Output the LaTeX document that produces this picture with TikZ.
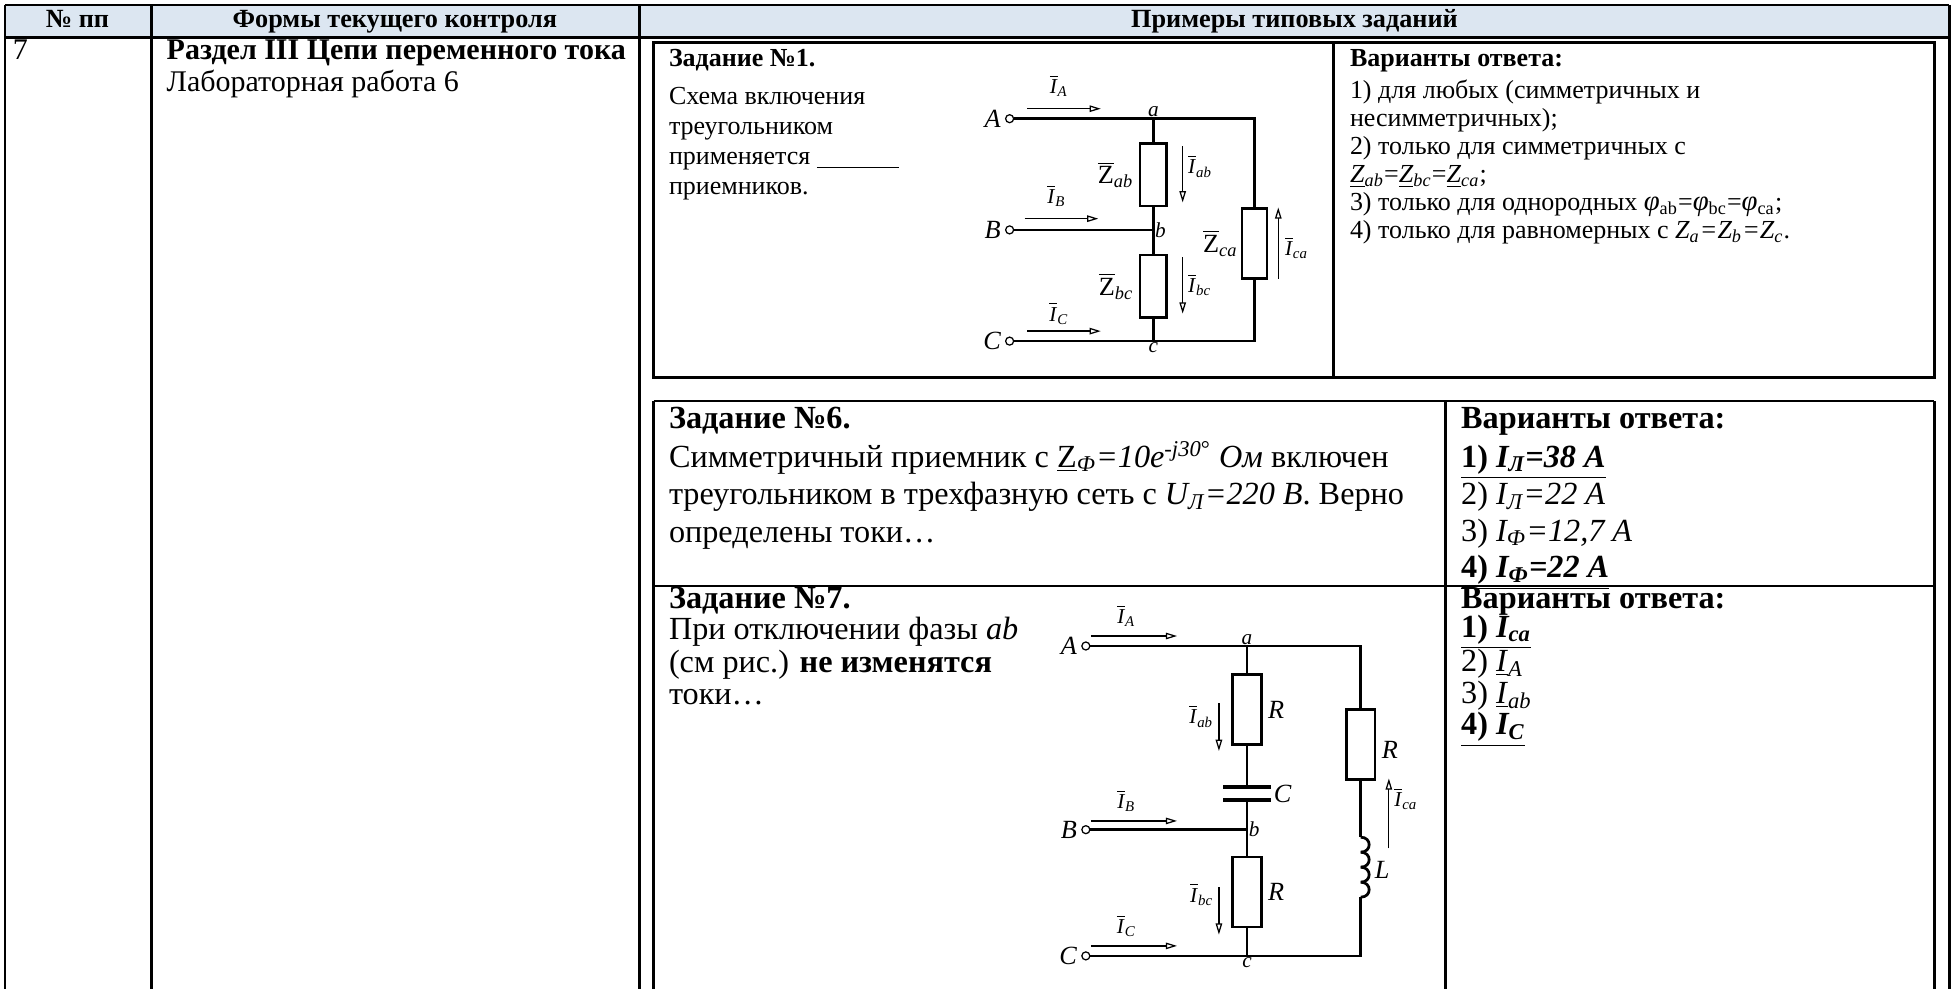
\documentclass[tikz,border=0pt]{standalone}
\usepackage{fontspec}
\setmainfont{Liberation Serif}
\usetikzlibrary{arrows.meta, positioning, calc}

\definecolor{hdrblue}{HTML}{DCE6F1}
\newcommand{\ovl}[1]{$\overline{\mbox{\textit{#1}}}$}
\newcommand{\ovz}{$\overline{\mbox{Z}}$}
\newcommand{\phis}{{\fontsize{11.5}{11.5}\selectfont\textit{φ}}}

\begin{document}
\begin{tikzpicture}[
  x=0.5pt, y=-0.5pt,
  tbl/.style = {line width=1.1pt},
  wire/.style = {line width=1.1pt},
  res/.style = {draw, line width=1pt, minimum width=10.5pt, minimum height=25pt, inner sep=0pt},
  term/.style = {draw, circle, line width=0.5pt, minimum size=3.2pt, inner sep=0pt, fill=white},
  curr/.style = {line width=0.5pt, -{Triangle[open, length=4.5pt, width=2.6pt]}},
  lbl/.style = {font=\fontsize{8.5}{9}\selectfont, inner sep=0.5pt},
  lblZ/.style = {font=\fontsize{10.5}{11}\selectfont, inner sep=0.5pt},
  lblT/.style = {font=\fontsize{10.5}{11}\selectfont\itshape, inner sep=1pt},
  hdr/.style = {font=\fontsize{10.5}{12}\selectfont\bfseries, anchor=base, inner sep=0pt},
  txtS/.style = {font=\fontsize{10.4}{11.9}\selectfont, anchor=base west, inner sep=0pt},
  txtM/.style = {font=\fontsize{12}{12.5}\selectfont, anchor=base west, inner sep=0pt},
  txtL/.style = {font=\fontsize{12.9}{15}\selectfont, anchor=base west, inner sep=0pt}
]
  \useasboundingbox (0,0) rectangle (1563,791.5);

  % Header row
  \fill[hdrblue] (4,4) rectangle (1560,30);
  \node[hdr] (hnum) at (62,22) {№ пп};
  \node[hdr] (hform) at (316,22) {Формы текущего контроля};
  \node[hdr] (hex) at (1036,22) {Примеры типовых заданий};

  % Table lines
  \draw[tbl] (4,4) -- (1560,4);
  \draw[tbl] (4,30) -- (1560,30);
  \draw[tbl] (4,4) -- (4,792);
  \draw[tbl] (121,4) -- (121,792);
  \draw[tbl] (512,4) -- (512,792);
  \draw[tbl] (1560,4) -- (1560,792);

  % Row 7
  \node[txtM] (rnum) at (10,48) {7};
  \node[txtM] (rsec) at (133,48) {\begin{tabular}[t]{@{}l@{}}
      \textbf{Раздел III Цепи переменного тока}\\
      Лабораторная работа 6
    \end{tabular}};

  % Task 1 box
  \draw[tbl] (523,34) rectangle (1548,302);
  \draw[tbl] (1067,34) -- (1067,302);

  \node[txtS] (q1t) at (535,53) {\textbf{Задание №1.}};
  \node[txtS] (q1) at (535,84) {\begin{tabular}[t]{@{}l@{}}
      Схема включения\\
      треугольником\\
      применяется \underline{\hspace{33pt}}\\
      приемников.
    \end{tabular}};

  \node[txtS] (a1t) at (1080,53) {\textbf{Варианты ответа:}};
  \node[txtS, font=\fontsize{10.4}{11.2}\selectfont] (a1) at (1080,79) {\begin{tabular}[t]{@{}l@{}}
      1) для любых (симметричных и\\
      несимметричных);\\
      2) только для симметричных с\\
      \underline{\textit{Z}}\textsubscript{\textit{ab}}=\underline{\textit{Z}}\textsubscript{\textit{bc}}=\underline{\textit{Z}}\textsubscript{\textit{ca}};\\
      3) только для однородных \phis\textsubscript{ab}=\phis\textsubscript{bc}=\phis\textsubscript{ca};\\
      4) только для равномерных с \textit{Z\textsubscript{a}=Z\textsubscript{b}=Z\textsubscript{c}}.
    \end{tabular}};

  % Task 1 circuit
  \node[term] (tA1) at (808,95) {};
  \node[term] (tB1) at (808,184) {};
  \node[term] (tC1) at (808,273) {};
  \coordinate (a1n) at (923,95);
  \coordinate (b1n) at (923,184);
  \coordinate (c1n) at (923,273);
  \coordinate (ra1) at (1004,95);
  \coordinate (rc1) at (1004,273);
  \node[res] (zab) at (923,140) {};
  \node[res] (zbc) at (923,229) {};
  \node[res, minimum width=10pt, minimum height=28pt] (zca) at (1004,195) {};

  \draw[wire] (tA1) -- (ra1) -- (zca.north);
  \draw[wire] (zca.south) -- (rc1) -- (tC1);
  \draw[wire] (tB1) -- (b1n);
  \draw[wire] (a1n) -- (zab.north);
  \draw[wire] (zab.south) -- (zbc.north);
  \draw[wire] (zbc.south) -- (c1n);

  \node[lblT, left=0.5pt of tA1] (lA1) {A};
  \node[lblT, left=0.5pt of tB1] (lB1) {B};
  \node[lblT, left=0.5pt of tC1] (lC1) {C};
  \node[lbl, above=0pt of a1n, font=\fontsize{8.5}{9}\selectfont\itshape] (la1) {a};
  \node[lbl, right=0pt of b1n, font=\fontsize{8.5}{9}\selectfont\itshape] (lb1) {b};
  \node[lbl, below=0pt of c1n, font=\fontsize{8.5}{9}\selectfont\itshape] (lc1) {c};

  \coordinate (iA1s) at (822,87);
  \coordinate (iA1e) at (881,87);
  \draw[curr] (iA1s) -- node[lbl, midway, above=4pt, xshift=-2pt] {\ovl{I}\textsubscript{\textit{A}}} (iA1e);
  \coordinate (iB1s) at (820,175);
  \coordinate (iB1e) at (879,175);
  \draw[curr] (iB1s) -- node[lbl, midway, above=4pt, xshift=-2pt] {\ovl{I}\textsubscript{\textit{B}}} (iB1e);
  \coordinate (iC1s) at (822,265);
  \coordinate (iC1e) at (881,265);
  \draw[curr] (iC1s) -- node[lbl, midway, above=2pt, xshift=-2pt] {\ovl{I}\textsubscript{\textit{C}}} (iC1e);

  \draw[curr] ($(zab.north east)+(12,3)$) -- ($(zab.south east)+(12,-4)$);
  \node[lbl, anchor=west] (lIab1) at ($(zab.east)+(15,-7)$) {\ovl{I}\textsubscript{\textit{ab}}};
  \draw[curr] ($(zbc.north east)+(12,3)$) -- ($(zbc.south east)+(12,-4)$);
  \node[lbl, anchor=west] (lIbc1) at ($(zbc.east)+(15,-1)$) {\ovl{I}\textsubscript{\textit{bc}}};
  \draw[curr] ($(zca.south east)+(8,-1)$) -- ($(zca.north east)+(8,0)$);
  \node[lbl, anchor=west] (lIca1) at ($(zca.east)+(12,3)$) {\ovl{I}\textsubscript{\textit{ca}}};

  \node[lblZ, left=1.5pt of zab] (lzab) {\ovz\textsubscript{\textit{ab}}};
  \node[lblZ, left=1.5pt of zbc] (lzbc) {\ovz\textsubscript{\textit{bc}}};
  \node[lblZ, left=0.5pt of zca] (lzca) {\ovz\textsubscript{\textit{ca}}};

  % Task 6 and 7 box
  \draw[tbl] (523,321) -- (1548,321);
  \draw[tbl] (523,321) -- (523,792);
  \draw[tbl] (1548,321) -- (1548,792);
  \draw[tbl] (1157,321) -- (1157,792);
  \draw[tbl] (523,469) -- (835,469);
  \draw[line width=0.5pt] (835,469) -- (1145,469);
  \draw[tbl] (1145,469) -- (1548,469);

  \node[txtL] (q6t) at (535,343) {\textbf{Задание №6.}};
  \node[txtL] (q6) at (535,374) {\begin{tabular}[t]{@{}l@{}}
      Симметричный приемник с \underline{Z}\textsubscript{\textit{Ф}}\textit{=10e}\textsuperscript{\textit{-j30}°} \textit{Ом} включен\\
      треугольником в трехфазную сеть с \textit{U\textsubscript{Л}=220 В}. Верно\\
      определены токи…
    \end{tabular}};

  \node[txtL] (a6t) at (1169,343) {\textbf{Варианты ответа:}};
  \node[txtL, font=\fontsize{12.9}{14.6}\selectfont] (a6) at (1169,374) {\begin{tabular}[t]{@{}l@{}}
      \underline{\textbf{1) \textit{I\textsubscript{Л}=38 A}}}\\
      2) \textit{I\textsubscript{Л}=22 A}\\
      3) \textit{I\textsubscript{Ф}=12,7 A}\\
      \underline{\textbf{4) \textit{I\textsubscript{Ф}=22 A}}}
    \end{tabular}};

  \node[txtL] (q7t) at (535,487) {\textbf{Задание №7.}};
  \node[txtL, font=\fontsize{12.9}{13}\selectfont] (q7) at (535,512) {\begin{tabular}[t]{@{}l@{}}
      При отключении фазы \textit{ab}\\
      (см рис.) \textbf{не изменятся}\\
      токи…
    \end{tabular}};

  \node[txtL] (a7t) at (1169,487) {\textbf{Варианты ответа:}};
  \node[txtL, font=\fontsize{12.9}{12.35}\selectfont] (a7) at (1169,510) {\begin{tabular}[t]{@{}l@{}}
      \underline{\textbf{1) \textit{I\textsubscript{ca}}}}\\
      2) \underline{\textit{I}}\textsubscript{\textit{A}}\\
      3) \underline{\textit{I}}\textsubscript{\textit{ab}}\\
      \underline{\textbf{4) \textit{I\textsubscript{C}}}}
    \end{tabular}};

  % Task 7 circuit
  \node[term] (tA7) at (869,517) {};
  \node[term] (tB7) at (869,664) {};
  \node[term] (tC7) at (869,765) {};
  \coordinate (a7n) at (998,517);
  \coordinate (b7n) at (998,664);
  \coordinate (c7n) at (998,765);
  \coordinate (ra7) at (1089,517);
  \coordinate (rc7) at (1089,765);
  \node[res, minimum width=11.5pt, minimum height=28pt] (rab) at (998,568) {};
  \node[res, minimum width=11.5pt, minimum height=28pt] (rbc) at (998,714) {};
  \node[res, minimum width=11.5pt, minimum height=28pt] (rca) at (1089,596) {};
  \coordinate (cap1) at (998,630);
  \coordinate (cap2) at (998,640);
  \coordinate (ltop) at (1089,670);
  \coordinate (lbot) at (1089,718);

  \draw[wire] (tA7) -- (ra7) -- (rca.north);
  \draw[wire] (rca.south) -- (ltop);
  \draw[wire] (lbot) -- (rc7) -- (tC7);
  \draw[wire] (tB7) -- (b7n);
  \draw[wire] (a7n) -- (rab.north);
  \draw[wire] (rab.south) -- (cap1);
  \draw[wire] (cap2) -- (rbc.north);
  \draw[wire] (rbc.south) -- (c7n);
  \draw[line width=1.5pt] ($(cap1)+(-19,0)$) -- ($(cap1)+(19,0)$);
  \draw[line width=1.5pt] ($(cap2)+(-19,0)$) -- ($(cap2)+(19,0)$);
  \foreach \k in {0,...,3}
    \draw[wire] ($(ltop)+(0,12*\k)$) .. controls ($(ltop)+(9,12*\k)$) and ($(ltop)+(9,12*\k+12)$) .. ($(ltop)+(0,12*\k+12)$);

  \node[lblT, left=0.5pt of tA7] (lA7) {A};
  \node[lblT, left=0.5pt of tB7] (lB7) {B};
  \node[lblT, left=0.5pt of tC7] (lC7) {C};
  \node[lbl, above=0pt of a7n, font=\fontsize{8.5}{9}\selectfont\itshape] (la7) {a};
  \node[lbl, right=0pt of b7n, font=\fontsize{8.5}{9}\selectfont\itshape] (lb7) {b};
  \node[lbl, below=0pt of c7n, font=\fontsize{8.5}{9}\selectfont\itshape] (lc7) {c};

  \node[lblT, right=1pt of rab] (lrab) {R};
  \node[lblT, right=1pt of rbc] (lrbc) {R};
  \node[lblT, right=1pt of rca, yshift=-2pt] (lrca) {R};
  \node[lblT, anchor=west] (lcap) at ($(cap1)!0.5!(cap2)+(19,0)$) {C};
  \node[lblT, anchor=west] (lind) at ($(ltop)+(9,26)$) {L};

  \coordinate (iA7s) at (873,509);
  \coordinate (iA7e) at (942,509);
  \draw[curr] (iA7s) -- node[lbl, midway, above=3pt, xshift=-3pt] {\ovl{I}\textsubscript{\textit{A}}} (iA7e);
  \coordinate (iB7s) at (873,657);
  \coordinate (iB7e) at (942,657);
  \draw[curr] (iB7s) -- node[lbl, midway, above=3pt, xshift=-3pt] {\ovl{I}\textsubscript{\textit{B}}} (iB7e);
  \coordinate (iC7s) at (873,757);
  \coordinate (iC7e) at (942,757);
  \draw[curr] (iC7s) -- node[lbl, midway, above=3pt, xshift=-3pt] {\ovl{I}\textsubscript{\textit{C}}} (iC7e);

  \draw[curr] ($(rab.north west)+(-10,24)$) -- ($(rab.south west)+(-10,4)$);
  \node[lbl, anchor=east] (lIab7) at ($(rab.west)+(-13,5)$) {\ovl{I}\textsubscript{\textit{ab}}};
  \draw[curr] ($(rbc.north west)+(-10,25)$) -- ($(rbc.south west)+(-10,5)$);
  \node[lbl, anchor=east] (lIbc7) at ($(rbc.west)+(-13,2)$) {\ovl{I}\textsubscript{\textit{bc}}};
  \draw[curr] ($(rca.south east)+(10,54)$) -- ($(rca.south east)+(10,-2)$);
  \node[lbl, anchor=west] (lIca7) at ($(rca.south east)+(13,14)$) {\ovl{I}\textsubscript{\textit{ca}}};

\end{tikzpicture}
\end{document}
